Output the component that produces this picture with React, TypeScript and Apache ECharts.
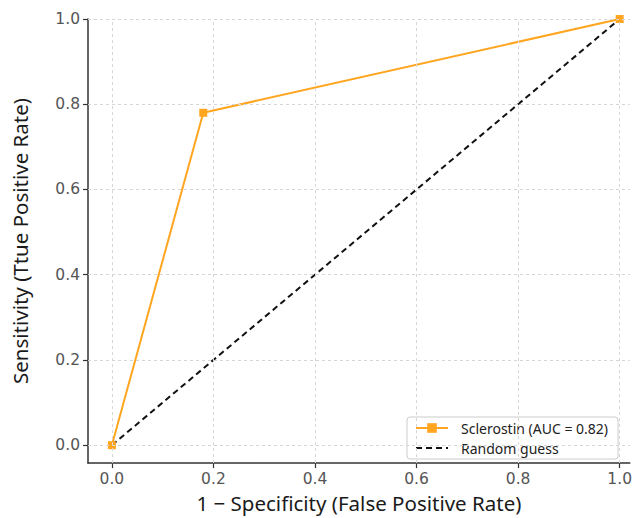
import React, { useEffect, useRef } from "react";
import * as echarts from "echarts";

const TICKS = [0, 0.2, 0.4, 0.6, 0.8, 1.0];
const rocX = [0, 0.18, 1.0];
const rocY = [0, 0.78, 1.0];
const guessX = [0, 1];
const guessY = [0, 1];
const SERIES_ROC = "Sclerostin (AUC = 0.82)";
const SERIES_GUESS = "Random guess";

export default function App() {
  const ref = useRef<HTMLDivElement>(null);
  useEffect(() => {
    const chart = echarts.init(ref.current!, null, { renderer: "svg" });
    const font = "Noto Sans";
    const tickFont = "DejaVu Sans";
    const axisCommon = (name: string) => ({
      type: "value" as const,
      name,
      nameLocation: "middle" as const,
      nameTextStyle: { fontSize: 20.5, color: "#1a1a1a", fontFamily: font },
      axisLine: { show: true, onZero: false, lineStyle: { color: "#333", width: 1.5 } },
      axisTick: { show: true, length: 5, customValues: TICKS, lineStyle: { color: "#333", width: 1.2 } },
      axisLabel: {
        customValues: TICKS,
        formatter: (v: number) => v.toFixed(1),
        fontSize: 15.5,
        color: "#555",
        fontFamily: tickFont,
        margin: 8,
      },
      splitLine: { show: false },
    });
    const gridLineData = [
      ...TICKS.map((t) => ({ xAxis: t })),
      ...TICKS.map((t) => ({ yAxis: t })),
    ];
    chart.setOption({
      animation: false,
      textStyle: { fontFamily: font },
      grid: { left: 88, right: 2, top: 19, bottom: 54 },
      xAxis: { ...axisCommon("1 \u2212 Specificity (False Positive Rate)"), min: -0.047, max: 1.02, nameGap: 23 },
      yAxis: { ...axisCommon("Sensitivity (Ttue Positive Rate)"), min: -0.042, max: 1.0, nameGap: 58 },
      legend: {
        orient: "vertical",
        left: 407,
        top: 417,
        padding: [4, 10, 4, 8],
        itemGap: 6,
        itemWidth: 32,
        itemHeight: 12,
        borderColor: "#ccc",
        borderWidth: 1,
        borderRadius: 3,
        backgroundColor: "#fff",
        textStyle: { fontSize: 14, lineHeight: 14, color: "#222", fontFamily: font, padding: [0, 0, 0, 8] },
        data: [
          { name: SERIES_ROC },
          { name: SERIES_GUESS, itemStyle: { opacity: 0 } },
        ],
      },
      series: [
        {
          name: "grid",
          type: "line",
          data: [],
          silent: true,
          markLine: {
            silent: true,
            symbol: "none",
            label: { show: false },
            lineStyle: { color: "#d6d6d6", type: [3, 3], width: 1 },
            data: gridLineData,
          },
          z: 1,
        },
        {
          name: SERIES_GUESS,
          type: "line",
          data: guessX.map((x, i) => [x, guessY[i]]),
          symbol: "none",
          lineStyle: { color: "#111", width: 2, type: [6, 4] },
          itemStyle: { color: "#111" },
          z: 3,
        },
        {
          name: SERIES_ROC,
          type: "line",
          data: rocX.map((x, i) => [x, rocY[i]]),
          symbol: "rect",
          symbolSize: 8,
          lineStyle: { color: "#FFA51F", width: 2 },
          itemStyle: { color: "#FFA51F" },
          z: 4,
        },
      ],
    });
    return () => chart.dispose();
  }, []);
  return <div ref={ref} style={{ position: "absolute", left: 0, top: 0, width: 635, height: 518 }} />;
}
